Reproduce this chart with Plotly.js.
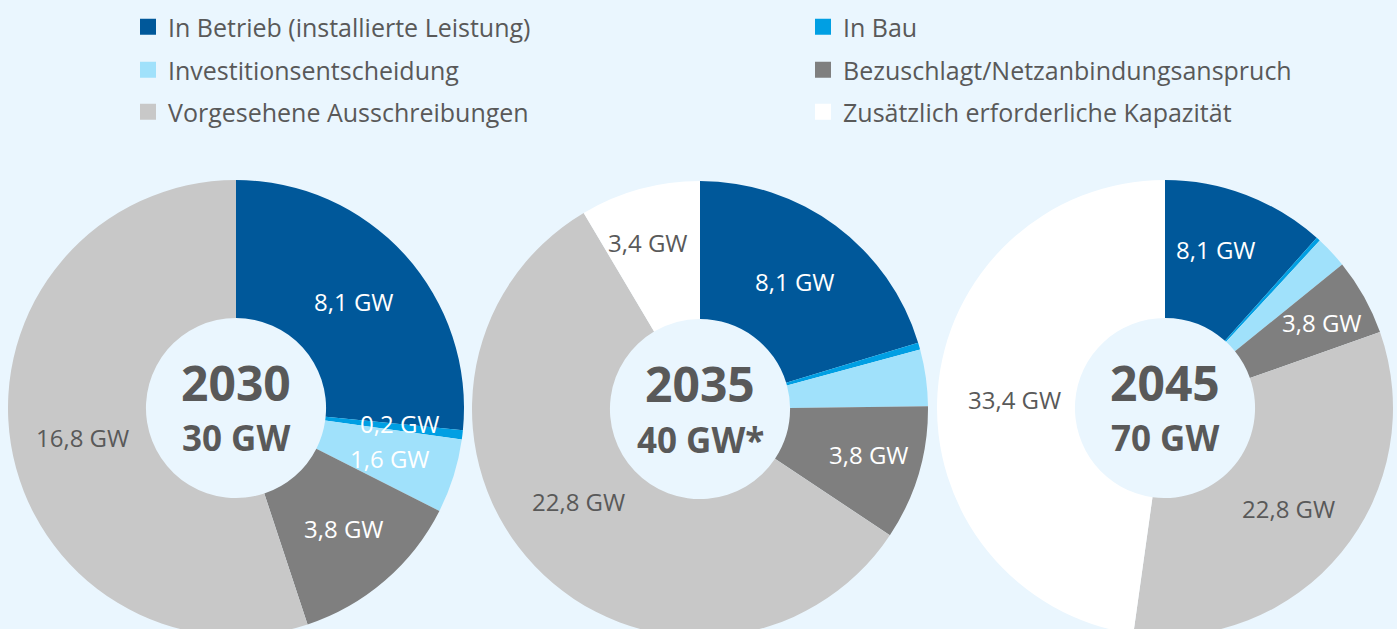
<!DOCTYPE html>
<html>
<head>
<meta charset="utf-8">
<script src="https://cdn.plot.ly/plotly-3.0.1.min.js"></script>
<style>
  html, body { margin: 0; padding: 0; overflow: hidden; background: #eaf6fe; }
  #chart { width: 1397px; height: 700px; }
</style>
</head>
<body>
<div id="chart"></div>
<script>
// ---------- data ----------
const categories = [
  'In Betrieb (installierte Leistung)',
  'In Bau',
  'Investitionsentscheidung',
  'Bezuschlagt/Netzanbindungsanspruch',
  'Vorgesehene Ausschreibungen',
  'Zusätzlich erforderliche Kapazität'
];
const years = ['2030', '2035', '2045'];
const totalLabels = ['30 GW', '40 GW*', '70 GW'];
const values2030 = [8.1, 0.2, 1.6, 3.8, 16.8, 0];
const values2035 = [8.1, 0.2, 1.6, 3.8, 22.8, 3.4];
const values2045 = [8.1, 0.2, 1.6, 3.8, 22.8, 33.4];
const showLabel2030 = [true, true, true, true, true, false];
const showLabel2035 = [true, false, false, true, true, true];
const showLabel2045 = [true, false, false, true, true, true];

// ---------- style ----------
const colors = ['#00589a', '#009fe3', '#a0e1fb', '#7f7f7f', '#c8c8c8', '#ffffff'];
const labelColors = ['#ffffff', '#ffffff', '#ffffff', '#ffffff', '#595959', '#595959'];
const textGray = '#595959';
const bg = '#eaf6fe';
const FONT = '"Open Sans", "Noto Sans", sans-serif';
const W = 1397, H = 700;
const R = 228, HOLE = 0.395;
const centers = [[236, 408], [700, 409], [1165, 408]];
// small pixel nudges of slice labels (per donut, per category) [dx, dy]
const labelNudge = [
  [[0, 0], [6, -3], [2, 3], [4, 0], [4, 4], [0, 0]],
  [[0, 0], [0, 0], [0, 0], [16, 0], [-6, -17], [-10, -13]],
  [[-6, -10], [0, 0], [0, 0], [18, -8], [0, 0], [8, 3]]
];
// legend grid: two columns, three rows
const legendCols = [128, 803];
const legendRows = [27, 70, 112];

const allValues = [values2030, values2035, values2045];
const allShow = [showLabel2030, showLabel2035, showLabel2045];

const traces = [];
const annotations = [];

allValues.forEach((vals, i) => {
  const [cx, cy] = centers[i];
  traces.push({
    type: 'pie',
    labels: categories,
    values: vals,
    sort: false,
    direction: 'clockwise',
    rotation: 0,
    hole: HOLE,
    marker: { colors: colors, line: { width: 0 } },
    textinfo: 'none',
    hoverinfo: 'skip',
    showlegend: false,
    domain: {
      x: [(cx - R) / W, (cx + R) / W],
      y: [(H - cy - R) / H, (H - cy + R) / H]
    }
  });
  // slice labels at mid-angle, mid-ring
  const total = vals.reduce((a, b) => a + b, 0);
  let cum = 0;
  const rl = R * (1 + HOLE) / 2;
  vals.forEach((v, k) => {
    const mid = (cum + v / 2) / total * 2 * Math.PI;
    cum += v;
    if (!allShow[i][k] || v <= 0) return;
    const px = cx + rl * Math.sin(mid);
    const py = cy - rl * Math.cos(mid);
    annotations.push({
      x: px / W, y: 1 - py / H, xref: 'paper', yref: 'paper',
      xanchor: 'center', yanchor: 'middle',
      xshift: labelNudge[i][k][0], yshift: -labelNudge[i][k][1],
      text: v.toFixed(1).replace('.', ',') + ' GW',
      showarrow: false,
      font: { family: FONT, size: 24, color: labelColors[k] }
    });
  });
  // centre text
  annotations.push({
    x: cx / W, y: 1 - (cy - 26) / H, xref: 'paper', yref: 'paper',
    xanchor: 'center', yanchor: 'middle',
    text: '<b>' + years[i] + '</b>', showarrow: false,
    font: { family: FONT, size: 48, color: textGray }
  });
  annotations.push({
    x: cx / W, y: 1 - (cy + 30) / H, xref: 'paper', yref: 'paper',
    xanchor: 'center', yanchor: 'middle',
    text: '<b>' + totalLabels[i] + '</b>', showarrow: false,
    font: { family: FONT, size: 35, color: textGray }
  });
});

// legend entries (one small legend per category, laid out in a 2x3 grid)
const layoutLegends = {};
categories.forEach((c, k) => {
  const id = k === 0 ? 'legend' : 'legend' + (k + 1);
  traces.push({
    type: 'scatter', mode: 'markers',
    x: [null], y: [null],
    name: c,
    legend: id,
    marker: { symbol: 'square', size: 16, color: colors[k], line: { width: 0 } },
    hoverinfo: 'skip', showlegend: true
  });
  layoutLegends[id] = {
    orientation: 'v',
    x: legendCols[k % 2] / W, xanchor: 'left',
    y: 1 - legendRows[Math.floor(k / 2)] / H, yanchor: 'middle',
    font: { family: FONT, size: 25, color: textGray },
    bgcolor: 'rgba(0,0,0,0)',
    borderwidth: 0,
    itemclick: false, itemdoubleclick: false
  };
});

const layout = Object.assign({
  width: W, height: H,
  margin: { l: 0, r: 0, t: 0, b: 0, autoexpand: false },
  paper_bgcolor: bg,
  plot_bgcolor: 'rgba(0,0,0,0)',
  xaxis: { visible: false },
  yaxis: { visible: false },
  showlegend: true,
  annotations: annotations
}, layoutLegends);

Plotly.newPlot('chart', traces, layout, { displayModeBar: false, staticPlot: true });
</script>
</body>
</html>
